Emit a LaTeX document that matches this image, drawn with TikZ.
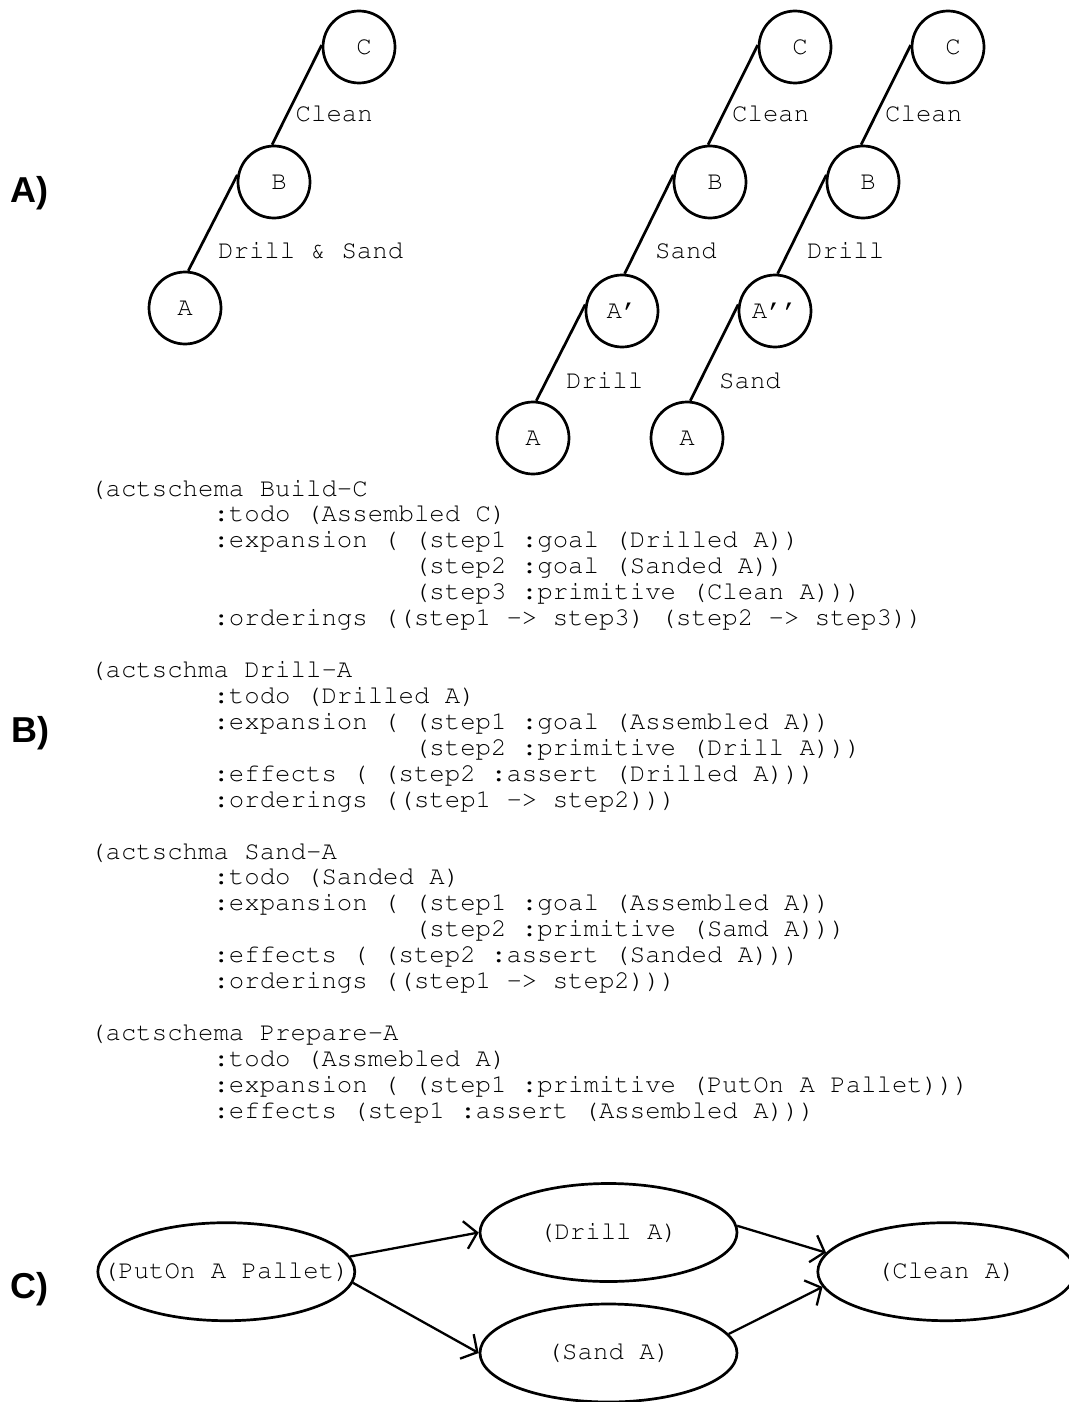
\documentclass[tikz,border=0pt]{standalone}
\usepackage[T1]{fontenc}
\usepackage{fontspec}
\newfontfamily\headfont{Liberation Sans}
\usetikzlibrary{shapes.geometric,arrows.meta}

% Courier (pcr) for all typewriter text; one character cell is 15.42pt wide
\newcommand\codefont{\fontencoding{T1}\fontfamily{pcr}\fontseries{m}\fontshape{n}%
  \fontsize{25.7pt}{26pt}\selectfont}
% one line of the schema listing: name, column, line number, text
\newcommand\schemaline[4]{%
  \node[codeline] (#1) at ({90+15.42*#2},{496+25.93*#3}) {#4};}

\tikzset{
  treenode/.style={circle, draw, line width=2.7pt, minimum size=72pt,
    inner sep=0pt, font=\codefont},
  treeedge/.style={line width=2.7pt},
  edgelabel/.style={anchor=base west, inner sep=0pt, font=\codefont},
  codeline/.style={anchor=base west, inner sep=0pt, font=\codefont\frenchspacing},
  stepnode/.style={ellipse, draw, line width=2.7pt, minimum width=257pt,
    minimum height=98pt, inner sep=0pt, font=\codefont},
  flow/.style={line width=2.3pt, -{Straight Barb[length=12pt,width=28pt]}},
  partlabel/.style={anchor=base west, inner sep=0pt,
    font=\headfont\bfseries\fontsize{36pt}{40pt}\selectfont},
}

\begin{document}
\begin{tikzpicture}[x=1pt,y=-1pt]
\path[fill=white, use as bounding box] (0,0) rectangle (1068,1402);

% ---- part labels
\node[partlabel] (labA) at (10,202) {A)};
\node[partlabel] (labB) at (11,742) {B)};
\node[partlabel] (labC) at (10,1298.5) {C)};

% ---- A) decomposition trees
% combined step
\node[treenode] (t1c) at (359,47)  {\kern10pt C};
\node[treenode] (t1b) at (274,182) {\kern10pt B};
\node[treenode] (t1a) at (185,308) {A};
\draw[treeedge] (t1b.93) -- (t1c.177);
\draw[treeedge] (t1a.85) -- (t1b.169);
\node[edgelabel] (t1l1) at (295.5,122) {Clean};
\node[edgelabel] (t1l2) at (218,258) {Drill \& Sand};

% drill first, then sand
\node[treenode] (t2c) at (795,47)  {\kern10pt C};
\node[treenode] (t2b) at (710,182) {\kern10pt B};
\node[treenode] (t2m) at (622,311) {A'};
\node[treenode] (t2a) at (533,438) {A};
\draw[treeedge] (t2b.93) -- (t2c.177);
\draw[treeedge] (t2m.86) -- (t2b.169);
\draw[treeedge] (t2a.85) -- (t2m.170);
\node[edgelabel] (t2l1) at (732,122) {Clean};
\node[edgelabel] (t2l2) at (655,258) {Sand};
\node[edgelabel] (t2l3) at (566,388) {Drill};

% sand first, then drill
\node[treenode] (t3c) at (948,47)  {\kern10pt C};
\node[treenode] (t3b) at (863,182) {\kern10pt B};
\node[treenode] (t3m) at (775,311) {A'\kern0pt'};
\node[treenode] (t3a) at (687,438) {A};
\draw[treeedge] (t3b.93) -- (t3c.177);
\draw[treeedge] (t3m.86) -- (t3b.169);
\draw[treeedge] (t3a.85) -- (t3m.170);
\node[edgelabel] (t3l1) at (885,122) {Clean};
\node[edgelabel] (t3l2) at (807,258) {Drill};
\node[edgelabel] (t3l3) at (719,388) {Sand};

% ---- B) action schemas
\schemaline{s0}{0}{0}{(actschema Build-C}
\schemaline{s1}{8}{1}{:todo (Assembled C)}
\schemaline{s2}{8}{2}{:expansion ( (step1 :goal (Drilled A))}
\schemaline{s3}{21}{3}{(step2 :goal (Sanded A))}
\schemaline{s4}{21}{4}{(step3 :primitive (Clean A)))}
\schemaline{s5}{8}{5}{:orderings ((step1 -> step3) (step2 -> step3))}

\schemaline{s7}{0}{7}{(actschma Drill-A}
\schemaline{s8}{8}{8}{:todo (Drilled A)}
\schemaline{s9}{8}{9}{:expansion ( (step1 :goal (Assembled A))}
\schemaline{s10}{21}{10}{(step2 :primitive (Drill A)))}
\schemaline{s11}{8}{11}{:effects ( (step2 :assert (Drilled A)))}
\schemaline{s12}{8}{12}{:orderings ((step1 -> step2)))}

\schemaline{s14}{0}{14}{(actschma Sand-A}
\schemaline{s15}{8}{15}{:todo (Sanded A)}
\schemaline{s16}{8}{16}{:expansion ( (step1 :goal (Assembled A))}
\schemaline{s17}{21}{17}{(step2 :primitive (Samd A)))}
\schemaline{s18}{8}{18}{:effects ( (step2 :assert (Sanded A)))}
\schemaline{s19}{8}{19}{:orderings ((step1 -> step2)))}

\schemaline{s21}{0}{21}{(actschema Prepare-A}
\schemaline{s22}{8}{22}{:todo (Assmebled A)}
\schemaline{s23}{8}{23}{:expansion ( (step1 :primitive (PutOn A Pallet)))}
\schemaline{s24}{8}{24}{:effects (step1 :assert (Assembled A)))}

% ---- C) resulting partial order
\node[stepnode] (put)   at (226.3,1271.7) {\makebox[0pt]{(PutOn A Pallet)}};
\node[stepnode] (drill) at (608.5,1232.5) {\makebox[0pt]{(Drill A)}};
\node[stepnode] (sand)  at (608.5,1353)   {\makebox[0pt]{(Sand A)}};
\node[stepnode] (clean) at (946.3,1271.7) {\makebox[0pt]{(Clean A)}};
\draw[flow] (put.7)   -- (drill.west);
\draw[flow] (put.355) -- (sand.west);
\draw[flow] (drill.3) -- (clean.171);
\draw[flow] (sand.9)  -- (clean.187);
\end{tikzpicture}
\end{document}
